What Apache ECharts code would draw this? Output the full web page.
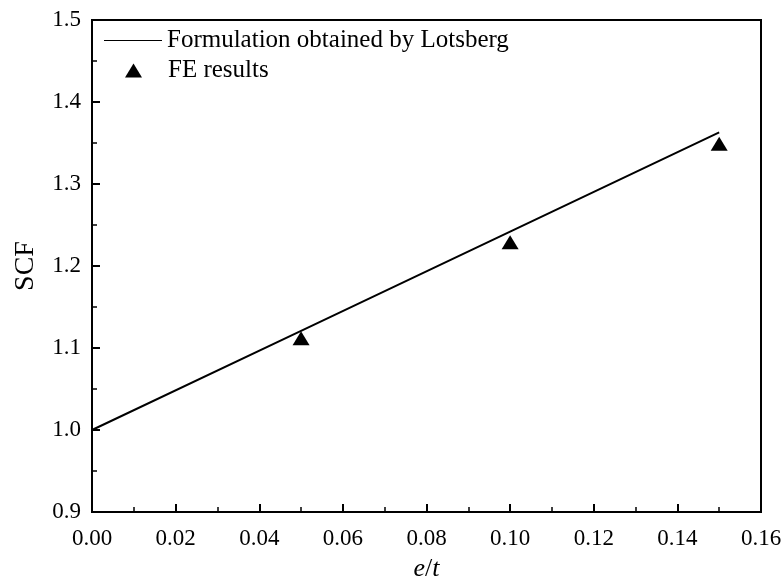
<!DOCTYPE html>
<html>
<head>
<meta charset="utf-8">
<script src="https://cdn.jsdelivr.net/npm/echarts@6/dist/echarts.min.js"></script>
<style>
  html, body { margin: 0; padding: 0; background: #fff; }
  #chart { width: 784px; height: 579px; }
</style>
</head>
<body>
<div id="chart"></div>
<script>
// Lotsberg formulation: straight line of SCF against e/t
const lineX = [0.0, 0.05, 0.10, 0.15];
const lineY = [1.0, 1.121, 1.242, 1.363];
// Finite-element results
const feX = [0.05, 0.10, 0.15];
const feY = [1.112, 1.229, 1.349];
// Axis ticks
const xTicks = [0.00, 0.02, 0.04, 0.06, 0.08, 0.10, 0.12, 0.14, 0.16];
const yTicks = [0.9, 1.0, 1.1, 1.2, 1.3, 1.4, 1.5];

const FONT = '"Liberation Serif", "Times New Roman", serif';

const chart = echarts.init(document.getElementById('chart'), null, { renderer: 'canvas' });

const axisCommon = {
  axisLine: { show: true, onZero: false, lineStyle: { color: '#000', width: 2 } },
  axisTick: { show: true, inside: true, length: 8, lineStyle: { color: '#000', width: 2 } },
  minorTick: { show: true, splitNumber: 2, length: 5, lineStyle: { color: '#000', width: 1.5 } },
  splitLine: { show: false },
  axisLabel: { color: '#000', fontFamily: FONT, fontSize: 23 }
};

chart.setOption({
  animation: false,
  backgroundColor: '#fff',
  grid: {
    left: 92, right: 23, top: 20, bottom: 67,
    outerBoundsMode: 'none',
    containLabel: false,
    show: true, borderColor: '#000', borderWidth: 2, backgroundColor: 'transparent'
  },
  legend: [
    {
      data: [{ name: 'Formulation obtained by Lotsberg', icon: 'path://M0,0 L100,0 L100,2 L0,2 Z' }],
      left: 99, top: 23, orient: 'vertical',
      itemWidth: 58, itemHeight: 2, itemGap: 0,
      textStyle: { color: '#000', fontFamily: FONT, fontSize: 25 }
    },
    {
      data: [{ name: 'FE results', itemStyle: { opacity: 1 } }],
      left: 120, top: 53, orient: 'vertical',
      itemWidth: 17, itemHeight: 14,
      textStyle: { color: '#000', fontFamily: FONT, fontSize: 25, padding: [0, 0, 0, 21] }
    }
  ],
  xAxis: Object.assign({}, axisCommon, {
    type: 'value', min: 0, max: 0.16, interval: 0.02,
    axisLabel: Object.assign({}, axisCommon.axisLabel, {
      margin: 15,
      formatter: v => v.toFixed(2)
    }),
    name: '{i|e}{n|/}{i|t}',
    nameLocation: 'middle', nameGap: 44,
    nameTextStyle: {
      rich: {
        i: { fontFamily: FONT, fontSize: 26, fontStyle: 'italic', color: '#000' },
        n: { fontFamily: FONT, fontSize: 26, color: '#000' }
      }
    }
  }),
  yAxis: Object.assign({}, axisCommon, {
    type: 'value', min: 0.9, max: 1.5, interval: 0.1,
    axisLabel: Object.assign({}, axisCommon.axisLabel, {
      margin: 11,
      formatter: v => v.toFixed(1)
    }),
    name: 'SCF', nameLocation: 'middle', nameGap: 52, nameRotate: 90,
    nameTextStyle: { fontFamily: FONT, fontSize: 28, color: '#000' }
  }),
  series: [
    {
      name: 'Formulation obtained by Lotsberg',
      type: 'line',
      data: lineX.map((x, i) => [x, lineY[i]]),
      symbol: 'none',
      lineStyle: { color: '#000', width: 2 },
      itemStyle: { color: '#000' }
    },
    {
      name: 'FE results',
      type: 'scatter',
      data: feX.map((x, i) => [x, feY[i]]),
      symbol: 'triangle',
      symbolSize: [17, 14],
      itemStyle: { color: '#000', opacity: 1 }
    }
  ]
});
</script>
</body>
</html>
